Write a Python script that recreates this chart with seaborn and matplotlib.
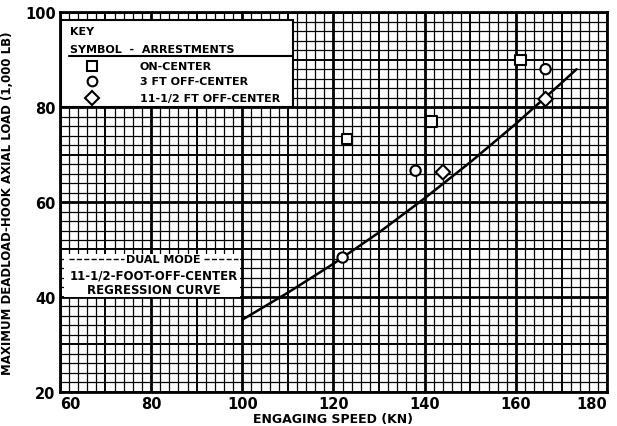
import numpy as np
import pandas as pd
import matplotlib.pyplot as plt
from matplotlib.patches import Rectangle
import seaborn as sns

# values
on_center_x = [123, 141.5, 161]
on_center_y = [73.3, 77, 90]
off3_x = [122, 138, 166.5]
off3_y = [48.3, 66.6, 88]
off11_x = [144, 166.5]
off11_y = [66.3, 81.7]

curve_x = [100, 110, 120, 130, 140, 150, 160, 170, 173.3]
curve_y = [35.2, 40.9, 47.0, 53.6, 60.8, 68.4, 76.5, 85.1, 88.0]

x_ticks = [60, 80, 100, 120, 140, 160, 180]
y_ticks = [20, 40, 60, 80, 100]

groups = ['ON-CENTER', '3 FT OFF-CENTER', '11-1/2 FT OFF-CENTER']
pts = pd.DataFrame({
    'speed': on_center_x + off3_x + off11_x,
    'load': on_center_y + off3_y + off11_y,
    'group': [groups[0]] * 3 + [groups[1]] * 3 + [groups[2]] * 2,
})
curve = pd.DataFrame({'speed': curve_x, 'load': curve_y})

sns.set_style('white')
plt.rcParams['font.family'] = ['Liberation Sans Narrow', 'DejaVu Sans']
plt.rcParams['font.weight'] = 'bold'
plt.rcParams['text.color'] = 'black'
plt.rcParams['axes.labelcolor'] = 'black'
plt.rcParams['xtick.color'] = 'black'
plt.rcParams['ytick.color'] = 'black'

fig = plt.figure(figsize=(6.17, 4.27), dpi=100)
ax = fig.add_axes([0.097, 0.080, 0.887, 0.889])

ax.set_xlim(60, 180)
ax.set_ylim(20, 100)

# graph paper grid
for v in np.arange(60, 181, 2):
    lw = 2.0 if v % 20 == 0 else (1.4 if v % 10 == 0 else 0.9)
    ax.axvline(v, color='black', lw=lw, zorder=1)
for v in np.arange(20, 101, 2):
    lw = 2.0 if v % 20 == 0 else (1.4 if v % 10 == 0 else 0.9)
    ax.axhline(v, color='black', lw=lw, zorder=1)

sns.lineplot(data=curve, x='speed', y='load', color='black', lw=1.8,
             ax=ax, zorder=3)
sns.scatterplot(data=pts, x='speed', y='load', style='group',
                markers={groups[0]: 's', groups[1]: 'o', groups[2]: 'D'},
                s=55, facecolor='white', edgecolor='black', linewidth=1.5,
                legend=False, ax=ax, zorder=4)

# key box
ax.add_patch(Rectangle((60.3, 80), 50.8, 18.3, facecolor='white',
                       edgecolor='black', lw=1.5, zorder=5))
ax.plot([62, 111.1], [90.7, 90.7], color='black', lw=1.5, zorder=6)
ax.text(62.3, 96, 'KEY', fontsize=8, va='center', zorder=6)
ax.text(62.3, 92.3, 'SYMBOL  -  ARRESTMENTS', fontsize=8, va='center', zorder=6)
key_y = [88.6, 85.5, 81.9]
for g, m, yy in zip(groups, ['s', 'o', 'D'], key_y):
    ax.plot([67], [yy], marker=m, ms=7, mfc='white', mec='black', mew=1.5,
            zorder=6)
    ax.text(77.5, yy, g, fontsize=8, va='center', zorder=6)

# regression curve note
ax.add_patch(Rectangle((61, 40), 38.5, 9.0, facecolor='white',
                       edgecolor='none', zorder=5))
ax.plot([62, 74], [48, 48], color='black', lw=1, ls='--', zorder=6)
ax.plot([91.5, 99], [48, 48], color='black', lw=1, ls='--', zorder=6)
ax.text(82.6, 48, 'DUAL MODE', fontsize=8, ha='center', va='center', zorder=6)
ax.text(80.5, 44.6, '11-1/2-FOOT-OFF-CENTER', fontsize=8.5, ha='center',
        va='center', zorder=6)
ax.text(80.5, 41.6, 'REGRESSION CURVE', fontsize=8.5, ha='center',
        va='center', zorder=6)

ax.set_xticks(x_ticks)
ax.set_yticks(y_ticks)
ax.tick_params(length=0, labelsize=10.5, pad=3)
for lab in ax.get_xticklabels() + ax.get_yticklabels():
    lab.set_fontweight('bold')
ax.get_xticklabels()[-1].set_horizontalalignment('right')
ax.get_xticklabels()[0].set_horizontalalignment('left')
ax.set_xlabel('ENGAGING SPEED (KN)', fontsize=9, fontweight='bold', labelpad=1)
ax.set_ylabel('MAXIMUM DEADLOAD-HOOK AXIAL LOAD (1,000 LB)', fontsize=8.5,
              fontweight='bold', labelpad=8)
for sp in ax.spines.values():
    sp.set_linewidth(2)
    sp.set_color('black')

fig.savefig('out.png', dpi=100)
